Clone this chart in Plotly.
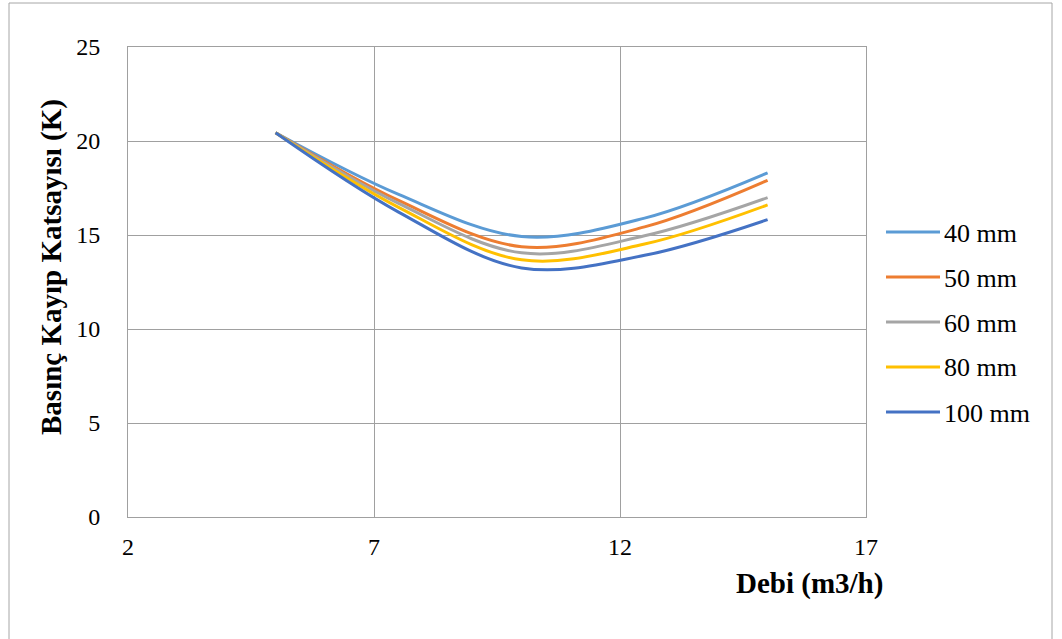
import plotly.graph_objects as go

# ---- data ----
debi = [5, 7.5, 10, 12.5, 15]
series_names = ["40 mm", "50 mm", "60 mm", "80 mm", "100 mm"]
k_40 = [20.44, 17.16, 14.92, 15.90, 18.31]
k_50 = [20.44, 16.84, 14.38, 15.43, 17.91]
k_60 = [20.44, 16.68, 14.05, 14.96, 16.99]
k_80 = [20.44, 16.47, 13.68, 14.52, 16.60]
k_100 = [20.44, 16.22, 13.25, 13.92, 15.82]
colors = ["#5B9BD5", "#ED7D31", "#A5A5A5", "#FFC000", "#4472C4"]
x_ticks = [2, 7, 12, 17]
y_ticks = [0, 5, 10, 15, 20, 25]

series_values = [k_40, k_50, k_60, k_80, k_100]

# ---- layout geometry (pixels) ----
FW, FH = 1062, 639
L, R, T, B = 128, 866, 47, 517
W, H = R - L, B - T


def px(x):
    return (x - L) / W


def py(y):
    return (B - y) / H


FONT = "Liberation Serif"
GRID = "#A0A0A0"

fig = go.Figure()
for name, vals, col in zip(series_names, series_values, colors):
    fig.add_trace(go.Scatter(
        x=debi, y=vals, name=name, mode="lines",
        line=dict(color=col, width=3, shape="spline", smoothing=1.0),
        showlegend=False,
    ))

fig.update_layout(
    width=FW, height=FH,
    margin=dict(l=L, r=FW - R, t=T, b=FH - B),
    paper_bgcolor="white", plot_bgcolor="white",
    font=dict(family=FONT, color="black"),
    xaxis=dict(
        range=[2, 17], tickvals=x_ticks, ticktext=[str(v) for v in x_ticks],
        showgrid=True, gridcolor=GRID, gridwidth=1, zeroline=False,
        showline=True, linecolor=GRID, linewidth=1, mirror=True,
        ticks="", tickfont=dict(size=24, family=FONT, color="black"),
        ticklabelstandoff=8,
    ),
    yaxis=dict(
        range=[0, 25], tickvals=y_ticks, ticktext=[str(v) for v in y_ticks],
        showgrid=True, gridcolor=GRID, gridwidth=1, zeroline=False,
        showline=True, linecolor=GRID, linewidth=1, mirror=True,
        ticks="", tickfont=dict(size=24, family=FONT, color="black"),
        ticklabelstandoff=22,
    ),
)

annotations = []
shapes = []

# axis titles
annotations.append(dict(
    text="<b>Debi (m3/h)</b>", xref="paper", yref="paper",
    x=px(885), y=py(583), xanchor="right", yanchor="middle",
    showarrow=False, font=dict(size=29, family=FONT, color="black"),
))
annotations.append(dict(
    text="<b>Basınç Kayıp Katsayısı (K)</b>", xref="paper", yref="paper",
    x=px(51), y=py(267), xanchor="center", yanchor="middle", textangle=-90,
    showarrow=False, font=dict(size=29, family=FONT, color="black"),
))

# legend
leg_y = [232, 277, 322, 367, 412]
for name, col, yy in zip(series_names, colors, leg_y):
    shapes.append(dict(
        type="line", xref="paper", yref="paper",
        x0=px(886), x1=px(940), y0=py(yy), y1=py(yy),
        line=dict(color=col, width=3),
    ))
    annotations.append(dict(
        text=name, xref="paper", yref="paper",
        x=px(942), y=py(yy + 1), xanchor="left", yanchor="middle",
        showarrow=False, font=dict(size=26, family=FONT, color="black"),
    ))

# outer chart border
shapes.append(dict(
    type="rect", xref="paper", yref="paper",
    x0=px(9), x1=px(1052), y0=py(660), y1=py(3),
    line=dict(color="#A6A6A6", width=1), fillcolor="rgba(0,0,0,0)",
))

fig.update_layout(annotations=annotations, shapes=shapes)
fig.write_html(
    "out.html",
    config={"displayModeBar": False},
    post_script="document.body.style.margin='0';document.body.style.overflow='hidden';",
)
